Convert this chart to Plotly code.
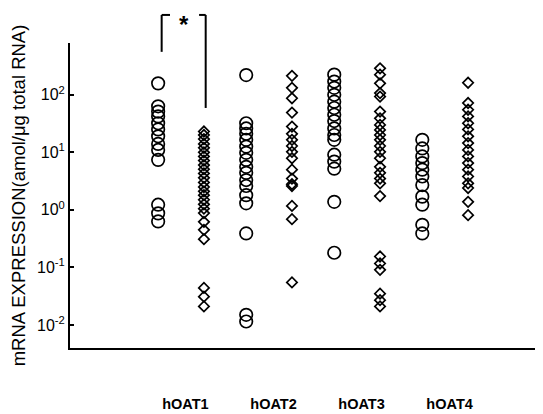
import plotly.graph_objects as go

genes = ["hOAT1", "hOAT2", "hOAT3", "hOAT4"]

# Values (amol/ug total RNA)
hoat1_circles = [158, 63, 51, 42, 32, 25, 19, 14, 11, 7.4, 1.23, 0.87, 0.63]
hoat1_diamonds = [23, 20, 17, 14, 12, 10, 8.5, 7.2, 6.0, 5.1, 4.3, 3.6, 3.0, 2.5,
                  2.1, 1.8, 1.5, 1.25, 1.05, 0.88, 0.62, 0.45, 0.31,
                  0.044, 0.031, 0.021]
hoat2_circles = [220, 32, 26, 21, 16.5, 12.6, 9.8, 7.4, 5.6, 4.4, 3.3, 2.6, 1.8, 1.3,
                 0.39, 0.015, 0.0115]
hoat2_diamonds = [214, 132, 87, 49, 28, 21, 16.5, 12.9, 10.2, 7.9, 5.0, 3.5, 2.8, 2.6,
                  1.17, 0.69, 0.055]
hoat3_circles = [224, 170, 132, 100, 76, 59, 45, 35, 26, 20, 16.5, 9.1, 6.9, 5.2,
                 1.38, 0.18]
hoat3_diamonds = [288, 224, 158, 107, 93, 51, 39, 30, 24.5, 20, 16.5, 12.9, 10.2, 7.9,
                  5.6, 4.4, 3.5, 2.9, 1.74, 0.155, 0.117, 0.091, 0.035, 0.027, 0.021]
hoat4_circles = [16.5, 11.7, 8.5, 6.5, 5.0, 3.8, 2.7, 1.7, 1.23, 0.55, 0.39]
hoat4_diamonds = [162, 72, 55, 42, 32, 25, 19, 14.5, 11, 8.5, 6.5, 5.0, 3.8, 2.9, 2.4,
                  1.38, 0.81]

circle_groups = [hoat1_circles, hoat2_circles, hoat3_circles, hoat4_circles]
diamond_groups = [hoat1_diamonds, hoat2_diamonds, hoat3_diamonds, hoat4_diamonds]

ytick_vals = [0.01, 0.1, 1, 10, 100]
ytick_text = ["10<sup>-2</sup>", "10<sup>-1</sup>", "10<sup>0</sup>", "10<sup>1</sup>", "10<sup>2</sup>"]

off = 0.26
fig = go.Figure()
for i, (c, d) in enumerate(zip(circle_groups, diamond_groups)):
    xc = i + 1 - off
    xd = i + 1 + off
    fig.add_trace(go.Scatter(
        x=[xc] * len(c), y=c, mode="markers", showlegend=False,
        marker=dict(symbol="circle-open", size=12.5, color="black", line=dict(width=1.7))))
    fig.add_trace(go.Scatter(
        x=[xd] * len(d), y=d, mode="markers", showlegend=False,
        marker=dict(symbol="diamond-open", size=8, color="black", line=dict(width=1.7))))

# significance bracket between hOAT1 groups
lw = 2
fig.add_shape(type="line", xref="x", yref="paper", x0=0.78, x1=0.78, y0=0.971, y1=1.092,
              line=dict(color="black", width=lw))
fig.add_shape(type="line", xref="x", yref="paper", x0=0.78, x1=0.875, y0=1.092, y1=1.092,
              line=dict(color="black", width=lw))
fig.add_shape(type="line", xref="x", yref="paper", x0=1.205, x1=1.28, y0=1.092, y1=1.092,
              line=dict(color="black", width=lw))
fig.add_shape(type="line", xref="x", yref="paper", x0=1.28, x1=1.28, y0=0.787, y1=1.092,
              line=dict(color="black", width=lw))
fig.add_annotation(x=1.03, y=1.11, xref="x", yref="paper", text="<b>*</b>", showarrow=False,
                   font=dict(size=24, color="black", family="Liberation Sans"))

# the page body adds an 8px offset, so the figure is 8px smaller on each axis
fig.update_layout(
    width=535, height=406,
    margin=dict(l=62, r=8, t=35, b=66),
    paper_bgcolor="white", plot_bgcolor="white",
    font=dict(family="Liberation Sans", color="black"),
)
fig.update_xaxes(
    range=[-0.261, 5.02], showgrid=False, zeroline=False, automargin=False,
    showline=True, linecolor="black", linewidth=2,
    tickvals=[1.05, 2.05, 3.05, 4.05], ticktext=genes, ticks="",
    tickfont=dict(size=14.5, family="Liberation Sans", weight="bold"),
    ticklabelstandoff=42,
)
fig.update_yaxes(
    type="log", range=[-2.40, 2.90], showgrid=False, zeroline=False, automargin=False,
    showline=True, linecolor="black", linewidth=2,
    tickvals=ytick_vals, ticktext=ytick_text,
    ticks="inside", ticklen=4, tickwidth=1.5, tickcolor="black",
    tickfont=dict(size=16, family="Liberation Sans"),
    ticklabelstandoff=0,
    title=dict(text="mRNA EXPRESSION(amol/μg total RNA)", standoff=18,
               font=dict(size=18.5, family="Liberation Sans")),
)

fig.write_html("out.html")
